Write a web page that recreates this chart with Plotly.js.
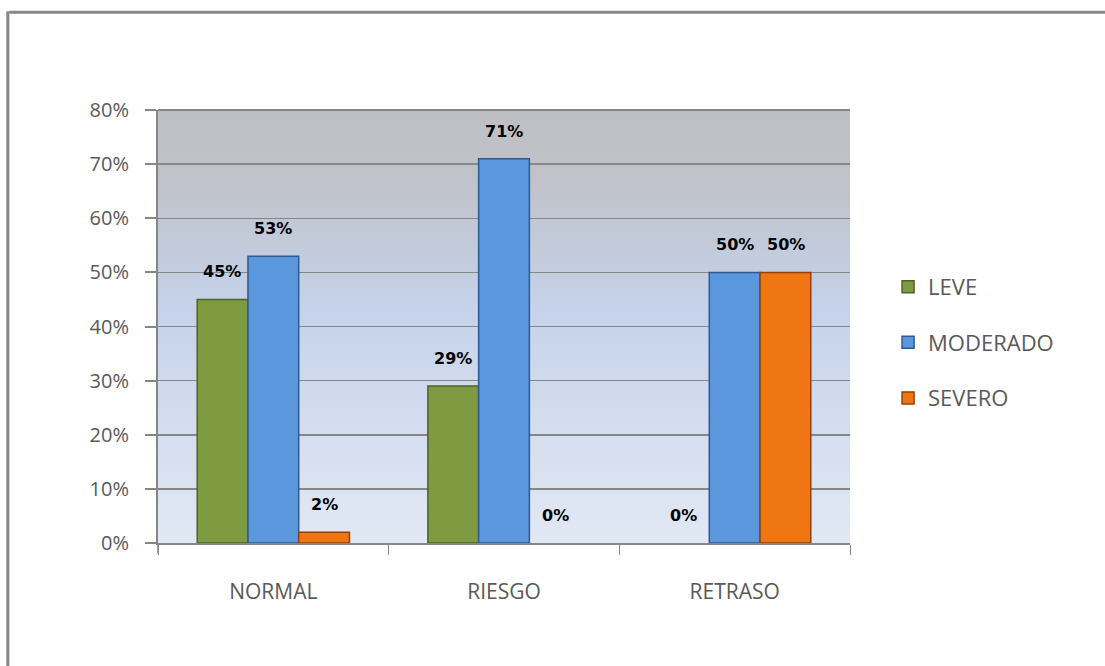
<!DOCTYPE html>
<html>
<head>
<meta charset="utf-8">
<script src="https://cdn.plot.ly/plotly-3.0.1.min.js"></script>
<style>
html,body{margin:0;padding:0;background:#fff;}
#chart{width:1105px;height:666px;}
</style>
</head>
<body>
<div id="chart"></div>
<script>
// Data
const categories = ["NORMAL", "RIESGO", "RETRASO"];
const seriesNames = ["LEVE", "MODERADO", "SEVERO"];
const leve = [0.45, 0.29, 0.00];
const moderado = [0.53, 0.71, 0.50];
const severo = [0.02, 0.00, 0.50];
const yTickVals = [0, 0.1, 0.2, 0.3, 0.4, 0.5, 0.6, 0.7, 0.8];
const yTickText = ["0%", "10%", "20%", "30%", "40%", "50%", "60%", "70%", "80%"];

const colors = ["#7f9b42", "#5a97dd", "#f07613"];
const lineColors = ["#4f6226", "#2f5a8f", "#8f420a"];
const allSeries = [leve, moderado, severo];

const traces = allSeries.map((vals, i) => ({
  type: "bar",
  name: seriesNames[i],
  x: categories,
  y: vals,
  legendgroup: "g" + i,
  marker: {
    color: colors[i],
    line: { color: lineColors[i], width: vals.map(v => v > 0 ? 1.5 : 0) }
  },
  hoverinfo: "none"
}));

// Data labels computed from arrays
const annotations = [];
allSeries.forEach((vals, i) => {
  vals.forEach((v, j) => {
    annotations.push({
      x: categories[j], y: v, xref: "x", yref: "y",
      text: Math.round(v * 100) + "%",
      showarrow: false,
      xshift: (i - 1) * 51,
      yanchor: "bottom",
      yshift: 16,
      font: { family: "DejaVu Sans", size: 16, color: "#000", weight: "bold" }
    });
  });
});

const bgSvg = "<svg xmlns='http://www.w3.org/2000/svg' width='100' height='100' preserveAspectRatio='none'>" +
  "<defs><linearGradient id='g' x1='0' y1='0' x2='0' y2='1'>" +
  "<stop offset='0' stop-color='#bebfc3'/>" +
  "<stop offset='0.18' stop-color='#c0c3cb'/>" +
  "<stop offset='0.45' stop-color='#c5d2ea'/>" +
  "<stop offset='1' stop-color='#e2e8f4'/>" +
  "</linearGradient></defs><rect width='100' height='100' fill='url(#g)'/></svg>";

const layout = {
  width: 1105, height: 666,
  margin: { l: 158, r: 255, t: 110, b: 123 },
  paper_bgcolor: "#ffffff",
  plot_bgcolor: "rgba(0,0,0,0)",
  barmode: "group",
  bargap: 0.34,
  bargroupgap: 0,
  showlegend: true,
  legend: {
    x: 1.055, xanchor: "left", y: 0.64, yanchor: "top",
    font: { family: "Open Sans", size: 22, color: "#595959" },
    tracegroupgap: 24,
    traceorder: "grouped",
    bgcolor: "rgba(0,0,0,0)"
  },
  xaxis: {
    type: "category",
    showline: true, linecolor: "#868686", linewidth: 2,
    ticks: "outside", ticklen: 10, tickcolor: "#868686", tickwidth: 1,
    tickson: "boundaries",
    tickfont: { family: "Open Sans", size: 21, color: "#595959" },
    ticklabelstandoff: 29,
    showgrid: false, zeroline: false, fixedrange: true
  },
  yaxis: {
    range: [0, 0.8],
    tickvals: yTickVals, ticktext: yTickText,
    showline: true, linecolor: "#868686", linewidth: 2,
    ticks: "outside", ticklen: 11, tickcolor: "#868686", tickwidth: 2,
    showgrid: true, gridcolor: "#868686", gridwidth: 1.5,
    zeroline: false,
    tickfont: { family: "Open Sans", size: 20, color: "#595959" },
    ticklabelstandoff: 12,
    fixedrange: true
  },
  images: [{
    source: "data:image/svg+xml;charset=utf-8," + encodeURIComponent(bgSvg),
    xref: "paper", yref: "paper", x: 0, y: 1, sizex: 1, sizey: 1,
    sizing: "stretch", layer: "below", xanchor: "left", yanchor: "top"
  }],
  shapes: [
    { type: "line", xref: "paper", yref: "paper", x0: -0.215, x1: 1.4, y0: 1.226, y1: 1.226,
      line: { color: "#878787", width: 3 } },
    { type: "line", xref: "paper", yref: "paper", x0: -0.217, x1: -0.217, y0: 1.228, y1: -0.3,
      line: { color: "#878787", width: 3 } },
    { type: "line", xref: "paper", yref: "paper", x0: 0, x1: 1, y0: 1, y1: 1,
      line: { color: "#868686", width: 2 } },
    { type: "line", xref: "paper", yref: "paper", x0: 0, x1: 0, y0: 0, y1: -0.024,
      line: { color: "#868686", width: 1.5 } }
  ],
  annotations: annotations
};

Plotly.newPlot("chart", traces, layout, { displayModeBar: false, staticPlot: true });
</script>
</body>
</html>
